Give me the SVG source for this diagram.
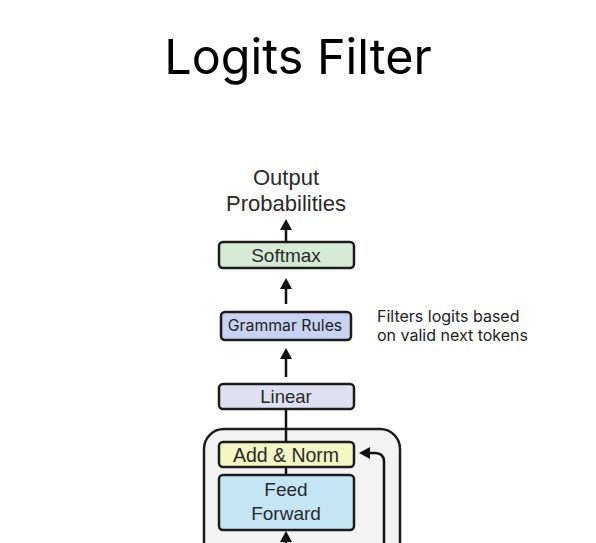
<svg xmlns="http://www.w3.org/2000/svg" width="596" height="543" viewBox="0 0 596 543">
<defs>
<marker id="ah" markerWidth="11" markerHeight="12" refX="6" refY="6" orient="auto" markerUnits="userSpaceOnUse">
<path d="M0,0 L11,6 L0,12 z" fill="#111"/>
</marker>
<style>
.box{stroke:#1c1c1c;stroke-width:2.5}
.lbl{font-family:"Liberation Sans",Arial,sans-serif;fill:#2a2a2a;text-anchor:middle}
.conn{stroke:#111;stroke-width:2.5;fill:none}
</style>
</defs>
<rect width="596" height="543" fill="#fff"/>
<text x="298" y="74" font-family="Inter,sans-serif" font-size="48.5" fill="#000" text-anchor="middle">Logits Filter</text>
<g id="outer"><rect x="204" y="429" width="196" height="140" rx="20" fill="#f3f3f3" class="box"/></g>
<g id="output"><text class="lbl" x="286" y="185" font-size="22">Output</text><text class="lbl" x="286" y="211" font-size="22">Probabilities</text></g>
<g id="softmax"><rect class="box" x="219" y="242" width="135" height="26" rx="4" fill="#d4ead3"/><text class="lbl" x="286" y="262" font-size="19">Softmax</text></g>
<g id="grammar"><rect class="box" x="221" y="312" width="130" height="28" rx="4" fill="#c7d3f2"/><text x="285" y="331" font-family="Inter,sans-serif" font-size="15.8" fill="#222" text-anchor="middle">Grammar Rules</text></g>
<g id="note"><text font-family="Inter,sans-serif" font-size="16" fill="#222"><tspan x="377" y="322">Filters logits based</tspan><tspan x="377" y="341">on valid next tokens</tspan></text></g>
<g id="linear"><rect class="box" x="219" y="384" width="135" height="25" rx="4" fill="#dfe0f1"/><text class="lbl" x="286" y="403" font-size="18.5">Linear</text></g>
<g id="addnorm"><rect class="box" x="219" y="442" width="135" height="25" rx="4" fill="#f3f5c2"/><text class="lbl" x="286" y="461.5" font-size="19.5">Add &amp; Norm</text></g>
<g id="ff"><rect class="box" x="219" y="475" width="135" height="55" rx="4" fill="#c3e5f4"/><text class="lbl" x="286" y="496" font-size="19">Feed</text><text class="lbl" x="286" y="520" font-size="19">Forward</text></g>
<g id="connectors">
<line class="conn" x1="286" y1="242" x2="286" y2="224" marker-end="url(#ah)"/>
<line class="conn" x1="286" y1="304" x2="286" y2="283" marker-end="url(#ah)"/>
<line class="conn" x1="286" y1="377" x2="286" y2="353" marker-end="url(#ah)"/>
<line class="conn" x1="286" y1="442" x2="286" y2="409"/>
<line class="conn" x1="286" y1="475" x2="286" y2="467"/>
<line class="conn" x1="286" y1="543" x2="286" y2="536" marker-end="url(#ah)"/>
<path class="conn" d="M384,543 L384,462 Q384,453 375,453 L364,453" marker-end="url(#ah)"/>
</g>
</svg>
